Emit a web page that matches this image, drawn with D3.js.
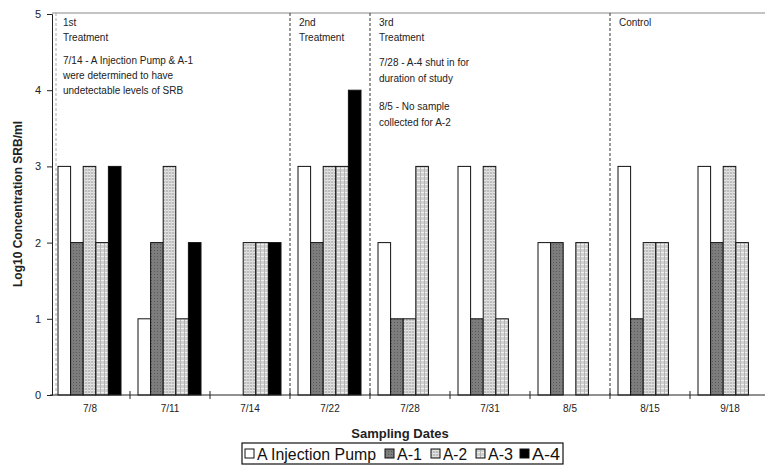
<!DOCTYPE html>
<html>
<head>
<meta charset="utf-8">
<script src="https://cdn.jsdelivr.net/npm/d3@7"></script>
<style>
  body { margin: 0; background: #fff; }
  svg { display: block; font-family: "Liberation Sans", Arial, sans-serif; }
</style>
</head>
<body>
<svg id="chart" width="765" height="466"></svg>
<script>
// Sampling dates and series
const dates = ["7/8", "7/11", "7/14", "7/22", "7/28", "7/31", "8/5", "8/15", "9/18"];
const seriesNames = ["A Injection Pump", "A-1", "A-2", "A-3", "A-4"];
// Log10 SRB/ml per series, one value per date (null = no sample)
const pumpValues = [3, 1, 0, 3, 2, 3, 2, 3, 3];
const a1Values   = [2, 2, 0, 2, 1, 1, 2, 1, 2];
const a2Values   = [3, 3, 2, 3, 1, 3, null, 2, 3];
const a3Values   = [2, 1, 2, 3, 3, 1, 2, 2, 2];
const a4Values   = [3, 2, 2, 4, 0, 0, 0, 0, 0];
const yTicks = [0, 1, 2, 3, 4, 5];

// Treatment phases: the first date of each phase and its notes
const phaseStarts = ["7/8", "7/22", "7/28", "8/15"];
const phaseNotes = [
  { at: "7/8", lines: [["1st", 0], ["Treatment", 15], ["7/14 - A Injection Pump & A-1", 38], ["were determined to have", 53], ["undetectable levels of SRB", 68]] },
  { at: "7/22", lines: [["2nd", 0], ["Treatment", 15]] },
  { at: "7/28", lines: [["3rd", 0], ["Treatment", 15], ["7/28 - A-4 shut in for", 40], ["duration of study", 56], ["8/5 - No sample", 84], ["collected for A-2", 100]] },
  { at: "8/15", lines: [["Control", 0]] }
];

const allValues = [pumpValues, a1Values, a2Values, a3Values, a4Values];
const fills = ["#ffffff", "url(#pA1)", "url(#pA2)", "url(#pA3)", "#000000"];

const svg = d3.select("#chart");
const plotLeft = 50, plotRight = 770, plotTop = 14, plotBottom = 395;

const x = d3.scaleBand().domain(dates).range([plotLeft, plotRight]);
const x1 = d3.scaleBand().domain(seriesNames).range([8, 71]);
const y = d3.scaleLinear().domain([0, 5]).range([plotBottom, plotTop]);

// Fill patterns
const defs = svg.append("defs");
const pA1 = defs.append("pattern").attr("id", "pA1").attr("width", 3).attr("height", 3).attr("patternUnits", "userSpaceOnUse");
pA1.append("rect").attr("width", 3).attr("height", 3).attr("fill", "#7d7d7d");
pA1.append("rect").attr("x", 1).attr("y", 1).attr("width", 1).attr("height", 1).attr("fill", "#5a5a5a");
const pA2 = defs.append("pattern").attr("id", "pA2").attr("width", 3).attr("height", 3).attr("patternUnits", "userSpaceOnUse");
pA2.append("rect").attr("width", 3).attr("height", 3).attr("fill", "#bdbdbd");
pA2.append("rect").attr("width", 3).attr("height", 1).attr("fill", "#e6e6e6");
pA2.append("rect").attr("width", 1).attr("height", 3).attr("fill", "#d8d8d8");
const pA3 = defs.append("pattern").attr("id", "pA3").attr("width", 4).attr("height", 4).attr("patternUnits", "userSpaceOnUse");
pA3.append("rect").attr("width", 4).attr("height", 4).attr("fill", "#d0d0d0");
pA3.append("rect").attr("width", 4).attr("height", 1).attr("fill", "#f0f0f0");
pA3.append("rect").attr("width", 1).attr("height", 4).attr("fill", "#b5b5b5");

// Plot frame top line
svg.append("line").attr("x1", plotLeft + 2).attr("x2", plotRight).attr("y1", plotTop - 1).attr("y2", plotTop - 1)
  .attr("stroke", "#888").attr("stroke-width", 1);

// Phase divider lines
svg.append("g").selectAll("line").data(phaseStarts).join("line")
  .attr("x1", d => x(d) + (d === dates[0] ? 6 : 0))
  .attr("x2", d => x(d) + (d === dates[0] ? 6 : 0))
  .attr("y1", plotTop - 1).attr("y2", plotBottom)
  .attr("stroke", d => d === dates[0] ? "#aaa" : "#333")
  .attr("stroke-width", 1)
  .attr("stroke-dasharray", "3,2");

// Bars
const barData = [];
dates.forEach((d, i) => {
  seriesNames.forEach((s, j) => {
    const v = allValues[j][i];
    if (v !== null && v > 0) barData.push({ date: d, series: s, value: v, fill: fills[j] });
  });
});
svg.append("g").selectAll("rect").data(barData).join("rect")
  .attr("x", d => x(d.date) + x1(d.series))
  .attr("y", d => y(d.value))
  .attr("width", x1.bandwidth())
  .attr("height", d => y(0) - y(d.value))
  .attr("fill", d => d.fill)
  .attr("stroke", "#111")
  .attr("stroke-width", 1);

// Y axis
const yAxis = svg.append("g").attr("transform", `translate(${plotLeft + 2},0)`)
  .call(d3.axisLeft(y).tickValues(yTicks).tickFormat(d3.format("d")).tickSize(5).tickPadding(6));
yAxis.select(".domain").attr("stroke", "#222");
yAxis.selectAll(".tick line").attr("stroke", "#222");
yAxis.selectAll("text").attr("font-size", 11).attr("fill", "#222");

// X axis with ticks between categories
const xAxisG = svg.append("g").attr("transform", `translate(0,${plotBottom})`);
xAxisG.append("line").attr("x1", plotLeft).attr("x2", plotRight).attr("stroke", "#222");
xAxisG.selectAll("line.sep").data(dates.slice(1)).join("line").attr("class", "sep")
  .attr("x1", d => x(d)).attr("x2", d => x(d)).attr("y1", -4).attr("y2", 4).attr("stroke", "#222");
xAxisG.selectAll("text").data(dates).join("text")
  .attr("x", d => x(d) + x.bandwidth() / 2).attr("y", 17)
  .attr("text-anchor", "middle").attr("font-size", 10).attr("fill", "#222")
  .text(d => d);

// Axis titles
svg.append("text").attr("transform", "translate(22,204) rotate(-90)")
  .attr("text-anchor", "middle").attr("font-size", 12).attr("font-weight", "bold").attr("fill", "#222")
  .text("Log10 Concentration SRB/ml");
svg.append("text").attr("x", 400).attr("y", 438).attr("text-anchor", "middle")
  .attr("font-size", 13).attr("font-weight", "bold").attr("fill", "#222")
  .text("Sampling Dates");

// Phase notes
phaseNotes.forEach(n => {
  const gx = x(n.at) + (n.at === dates[0] ? 13 : 9);
  svg.append("g").selectAll("text").data(n.lines).join("text")
    .attr("x", gx).attr("y", d => 26 + d[1])
    .attr("font-size", 10).attr("fill", "#222")
    .text(d => d[0]);
});

// Legend
const legend = svg.append("g");
legend.append("rect").attr("x", 242).attr("y", 443).attr("width", 321).attr("height", 21)
  .attr("fill", "#fff").attr("stroke", "#111").attr("stroke-width", 1.2);
const legendX = [245, 385, 431, 476, 520];
const legendW = [119, 25, 24, 25, 28];
seriesNames.forEach((s, j) => {
  legend.append("rect").attr("x", legendX[j]).attr("y", 449).attr("width", 9).attr("height", 9)
    .attr("fill", fills[j]).attr("stroke", "#111");
  legend.append("text").attr("x", legendX[j] + 12).attr("y", 459.5).attr("font-size", 16).attr("fill", "#111")
    .attr("textLength", legendW[j]).attr("lengthAdjust", "spacingAndGlyphs")
    .text(s);
});
</script>
</body>
</html>
